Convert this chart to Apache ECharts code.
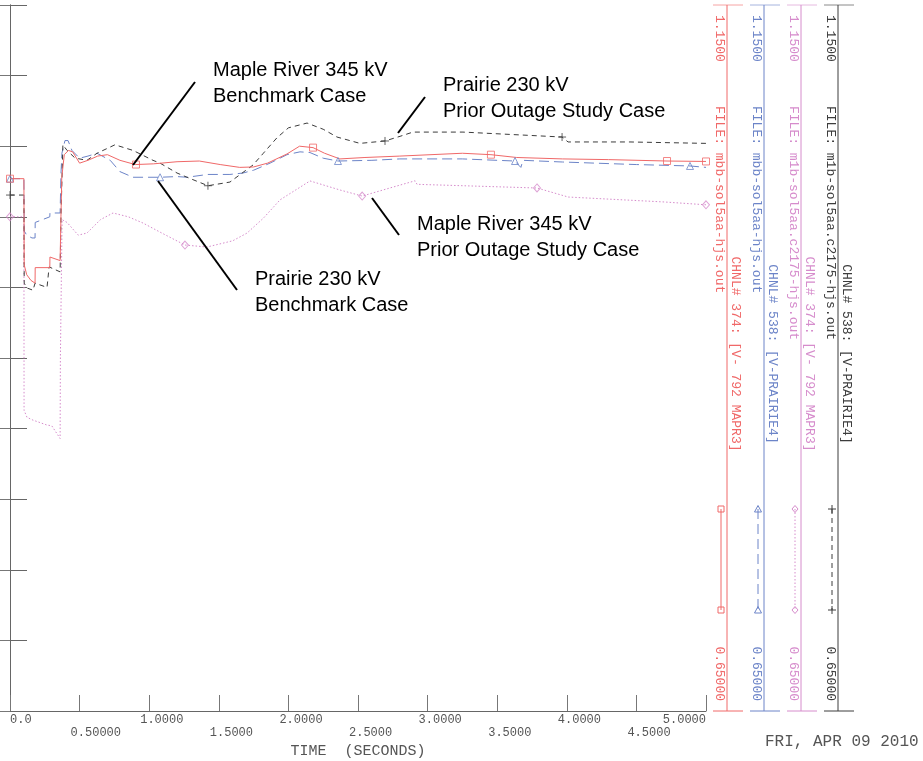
<!DOCTYPE html>
<html><head><meta charset="utf-8">
<script src="https://cdn.jsdelivr.net/npm/echarts@6/dist/echarts.min.js"></script>
<style>html,body{margin:0;padding:0;background:#fff}#c{width:923px;height:761px}</style>
</head><body><div id="c"></div>
<script>
// ---------- data ----------
const xTickLabels = ['0.0','0.50000','1.0000','1.5000','2.0000','2.5000','3.0000','3.5000','4.0000','4.5000','5.0000'];
const yMin = 0.65, yMax = 1.15, yStep = 0.05;
const xMin = 0, xMax = 5, xStep = 0.5;

// Maple River 345 kV Benchmark Case (red, solid, squares)
const mapleBench = [[0,1.027],[0.1,1.027],[0.102,0.966],[0.12,0.959],[0.15,0.955],[0.18,0.953],[0.181,0.964],[0.286,0.964],[0.287,0.9715],[0.36,0.969],[0.366,1.0],[0.372,1.028],[0.39,1.044],[0.42,1.047],[0.45,1.046],[0.5,1.038],[0.56,1.040],[0.63,1.043],[0.7,1.044],[0.79,1.040],[0.9,1.037],[1.03,1.0375],[1.2,1.039],[1.36,1.0395],[1.51,1.037],[1.65,1.035],[1.75,1.0353],[1.85,1.038],[1.99,1.0445],[2.08,1.050],[2.177,1.049],[2.26,1.045],[2.37,1.041],[2.55,1.042],[2.8,1.043],[3.25,1.045],[3.455,1.044],[3.64,1.042],[3.97,1.041],[4.3,1.0405],[4.72,1.0395],[5.0,1.0392]];
const mapleBenchMarks = [[0,1.027],[0.905,1.037],[2.177,1.049],[3.455,1.044],[4.72,1.0395],[5.0,1.0392]];

// Prairie 230 kV Benchmark Case (blue, long dash, triangles)
const prairieBench = [[0,1.027],[0.1,1.027],[0.102,0.99],[0.12,0.987],[0.158,0.985],[0.18,0.985],[0.181,0.996],[0.286,1.0],[0.287,1.0027],[0.36,1.0027],[0.366,1.03],[0.373,1.045],[0.395,1.054],[0.417,1.054],[0.445,1.047],[0.5,1.0415],[0.56,1.043],[0.625,1.045],[0.72,1.040],[0.79,1.032],[0.884,1.028],[1.078,1.028],[1.2,1.0285],[1.272,1.028],[1.42,1.030],[1.58,1.030],[1.674,1.031],[1.75,1.033],[1.868,1.038],[1.99,1.044],[2.083,1.046],[2.155,1.0455],[2.25,1.0415],[2.356,1.0395],[2.6,1.040],[2.8,1.041],[3.25,1.041],[3.5,1.040],[3.628,1.0395],[3.655,1.0365],[3.67,1.035],[3.685,1.040],[3.97,1.0388],[4.5,1.037],[4.885,1.036],[5.0,1.035]];
const prairieBenchMarks = [[0,1.027],[1.078,1.028],[2.356,1.0395],[3.628,1.0395],[4.885,1.036]];

// Maple River 345 kV Prior Outage Study Case (pink, dotted, diamonds)
const mapleOutage = [[0,1.0],[0.1,1.0],[0.101,0.863],[0.122,0.858],[0.165,0.856],[0.266,0.8525],[0.30,0.852],[0.36,0.843],[0.362,0.9],[0.374,0.998],[0.41,0.996],[0.49,0.987],[0.553,0.9885],[0.65,0.998],[0.74,1.0027],[0.85,1.0],[0.955,0.9956],[1.1,0.988],[1.257,0.980],[1.415,0.9786],[1.6,0.983],[1.703,0.9885],[1.82,0.999],[1.94,1.012],[2.155,1.0254],[2.37,1.019],[2.53,1.0147],[2.75,1.021],[2.91,1.0255],[2.924,1.023],[3.786,1.0204],[4.01,1.014],[4.7,1.0105],[5.0,1.0085]];
const mapleOutageMarks = [[0,1.0],[1.257,0.980],[2.53,1.0147],[3.786,1.0204],[5.0,1.0085]];

// Prairie 230 kV Prior Outage Study Case (black, short dash, crosses)
const prairieOutage = [[0,1.0154],[0.1,1.0154],[0.102,0.953],[0.122,0.9496],[0.165,0.948],[0.18,0.953],[0.266,0.950],[0.28,0.950],[0.281,0.9645],[0.36,0.961],[0.366,1.0],[0.38,1.051],[0.41,1.047],[0.467,1.0416],[0.553,1.040],[0.625,1.045],[0.754,1.051],[0.884,1.047],[1.027,1.040],[1.078,1.038],[1.2,1.031],[1.272,1.028],[1.422,1.022],[1.58,1.0246],[1.746,1.0367],[1.82,1.045],[1.918,1.056],[2.0,1.063],[2.134,1.0664],[2.25,1.062],[2.349,1.0565],[2.514,1.052],[2.694,1.0537],[2.802,1.057],[2.895,1.060],[3.254,1.060],[3.966,1.0565],[4.009,1.053],[4.454,1.053],[5.0,1.052]];
const prairieOutageMarks = [[0,1.0154],[1.422,1.022],[2.694,1.0537],[3.966,1.0565]];

// legend panel texts
const legendTop = ['1.1500','1.1500','1.1500','1.1500'];
const legendBottom = ['0.65000','0.65000','0.65000','0.65000'];
const legendFiles = ['FILE: mbb-sol5aa-hjs.out','FILE: mbb-sol5aa-hjs.out','FILE: m1b-sol5aa.c2175-hjs.out','FILE: m1b-sol5aa.c2175-hjs.out'];
const legendChannels = ['CHNL# 374: [V- 792 MAPR3]','CHNL# 538: [V-PRAIRIE4]','CHNL# 374: [V- 792 MAPR3]','CHNL# 538: [V-PRAIRIE4]'];
const annotations = [
  ['Maple River 345 kV','Benchmark Case'],
  ['Prairie 230 kV','Prior Outage Study Case'],
  ['Maple River 345 kV','Prior Outage Study Case'],
  ['Prairie 230 kV','Benchmark Case']
];
const dateText = 'FRI, APR 09 2010';
const xAxisTitle = 'TIME  (SECONDS)';

// ---------- styles / layout ----------
const RED = '#f06868', BLUE = '#6c84c8', PINK = '#d68ccc', DARK = '#3c3c3c';
const colors = [RED, BLUE, PINK, DARK];
const MONO = '"Liberation Mono", "DejaVu Sans Mono", monospace';
const crossPath = 'path://M0,5L10,5M5,0L5,10';

const chart = echarts.init(document.getElementById('c'), null, {renderer:'canvas'});

function lineSeries(data, color, type) {
  return {type:'line', data, symbol:'none', smooth:false, animation:false,
    lineStyle:{color, width:1, type}, z:2};
}
function markSeries(data, color, symbol, size) {
  return {type:'scatter', data, symbol, symbolSize:size, animation:false, z:3,
    itemStyle:{color:'transparent', borderColor:color, borderWidth:1}};
}

// legend graphic
const graphic = [];
const colX = [727, 764, 801, 838];
const legendDash = [null, [10,5], [1.5,2], [5,4]];
const legendSym = ['rect','triangle','diamond','cross'];
colX.forEach((lx, i) => {
  const c = colors[i];
  graphic.push({type:'line', shape:{x1:lx-14,y1:5,x2:lx+16,y2:5}, style:{stroke:c, lineWidth:1, opacity:0.6}});
  graphic.push({type:'line', shape:{x1:lx,y1:5,x2:lx,y2:711}, style:{stroke:c, lineWidth:1}});
  graphic.push({type:'line', shape:{x1:lx-14,y1:711,x2:lx+16,y2:711}, style:{stroke:c, lineWidth:1}});
  const tstyle = (text, align) => ({text, fill:c, font:'13px '+MONO, align, verticalAlign:'middle'});
  graphic.push({type:'text', x:lx-8, y:15, rotation:-Math.PI/2, style:tstyle(legendTop[i],'left')});
  graphic.push({type:'text', x:lx-8, y:106, rotation:-Math.PI/2, style:tstyle(legendFiles[i],'left')});
  graphic.push({type:'text', x:lx+8, y:354, rotation:-Math.PI/2, style:tstyle(legendChannels[i],'center')});
  graphic.push({type:'text', x:lx-8, y:701, rotation:-Math.PI/2, style:tstyle(legendBottom[i],'right')});
  const sx = lx-6;
  graphic.push({type:'line', shape:{x1:sx,y1:509,x2:sx,y2:610}, style:{stroke:c, lineWidth:1, lineDash:legendDash[i]}});
  [509,610].forEach(sy => {
    const s = legendSym[i];
    if (s==='rect') graphic.push({type:'rect', shape:{x:sx-3,y:sy-3,width:6,height:6}, style:{fill:'none', stroke:c}});
    else if (s==='triangle') graphic.push({type:'polygon', shape:{points:[[sx,sy-3.5],[sx-3.5,sy+3],[sx+3.5,sy+3]]}, style:{fill:'none', stroke:c}});
    else if (s==='diamond') graphic.push({type:'polygon', shape:{points:[[sx,sy-3.5],[sx+3,sy],[sx,sy+3.5],[sx-3,sy]]}, style:{fill:'none', stroke:c}});
    else { graphic.push({type:'line', shape:{x1:sx-4,y1:sy,x2:sx+4,y2:sy}, style:{stroke:c}});
           graphic.push({type:'line', shape:{x1:sx,y1:sy-4,x2:sx,y2:sy+4}, style:{stroke:c}}); }
  });
});
// annotations
const annoPos = [[213,57],[443,72],[417,211],[255,266]];
annotations.forEach((a, i) => {
  graphic.push({type:'text', x:annoPos[i][0], y:annoPos[i][1],
    style:{text:a.join('\n'), fill:'#000', font:'20px "Liberation Sans", Arial, sans-serif', lineHeight:26, align:'left', verticalAlign:'top'}});
});
const leaders = [[195,82,133,165],[425,97,398,133],[372,198,399,235],[158,181,237,290]];
leaders.forEach(l => graphic.push({type:'line', shape:{x1:l[0],y1:l[1],x2:l[2],y2:l[3]}, style:{stroke:'#000', lineWidth:2}, z:10}));
graphic.push({type:'text', x:765, y:742, style:{text:dateText, fill:'#555', font:'16px '+MONO, align:'left', verticalAlign:'middle'}});

const labelIndex = v => Math.round((v - xMin)/xStep);
const labelBase = {show:true, fontFamily:MONO, fontSize:12, color:'#555', align:'left', padding:[0,0,0,-9], hideOverlap:false,
  rich:{first:{fontFamily:MONO, fontSize:12, color:'#555', padding:[0,0,0,9]}}};

const option = {
  backgroundColor:'#fff',
  animation:false,
  grid:{left:10, right:217, top:5, bottom:50, containLabel:false, outerBoundsMode:'none'},
  xAxis:[
    {type:'value', min:xMin, max:xMax, interval:xStep,
      name:xAxisTitle, nameLocation:'middle', nameGap:33,
      nameTextStyle:{fontFamily:MONO, fontSize:15, color:'#555'},
      axisLine:{show:true, onZero:false, lineStyle:{color:'#666', width:1}},
      axisTick:{show:true, inside:true, length:16, lineStyle:{color:'#777'}},
      splitLine:{show:false},
      axisLabel:Object.assign({}, labelBase, {margin:3, alignMaxLabel:'right', showMaxLabel:true, showMinLabel:true,
        formatter:(v)=>{ const i = labelIndex(v); if (i%2) return ''; return i===0 ? '{first|'+xTickLabels[i]+'}' : xTickLabels[i]; }})
    },
    {type:'value', min:xMin, max:xMax, interval:xStep, position:'bottom',
      axisLine:{show:false}, axisTick:{show:false}, splitLine:{show:false},
      axisLabel:Object.assign({}, labelBase, {margin:16, showMaxLabel:false, showMinLabel:false,
        formatter:(v)=>{ const i = labelIndex(v); return i%2 ? xTickLabels[i] : ''; }})
    }
  ],
  yAxis:[
    {type:'value', min:yMin, max:yMax, interval:yStep, position:'left',
      axisLine:{show:true, lineStyle:{color:'#666'}},
      axisTick:{show:true, inside:true, length:17, lineStyle:{color:'#666'}},
      axisLabel:{show:false}, splitLine:{show:false}},
    {type:'value', min:yMin, max:yMax, interval:yStep, position:'right',
      axisLine:{show:true, lineStyle:{color:'#666'}},
      axisTick:{show:true, inside:true, length:16, lineStyle:{color:'#777'}},
      axisLabel:{show:false}, splitLine:{show:false}}
  ],
  series:[
    lineSeries(mapleOutage, PINK, [1.5,2]),
    lineSeries(prairieBench, BLUE, [10,5]),
    lineSeries(prairieOutage, DARK, [5,4]),
    lineSeries(mapleBench, RED, 'solid'),
    markSeries(mapleOutageMarks, PINK, 'diamond', [7,8]),
    markSeries(prairieBenchMarks, BLUE, 'triangle', 7),
    markSeries(prairieOutageMarks, DARK, crossPath, 8),
    markSeries(mapleBenchMarks, RED, 'rect', 7)
  ],
  graphic
};
chart.setOption(option);
</script></body></html>
